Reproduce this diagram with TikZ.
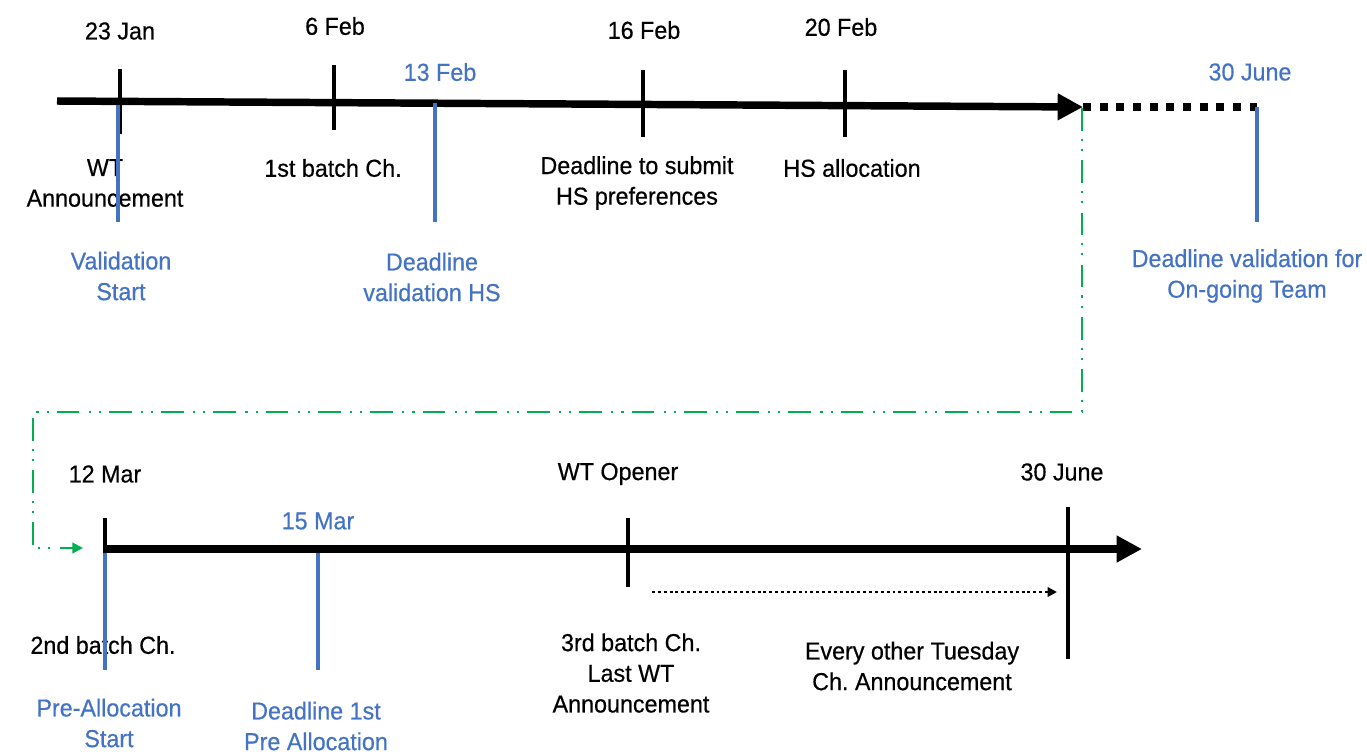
\documentclass[tikz,border=0pt]{standalone}
\usepackage{fontspec}
\setmainfont[FakeStretch=0.95,FakeBold=0.5]{Liberation Sans}
\usetikzlibrary{arrows.meta}
\definecolor{tblue}{HTML}{4472C4}
\definecolor{tgreen}{HTML}{00B050}
\frenchspacing
\tikzset{
  axis/.style={line width=5.6pt, -{Triangle[length=19pt,width=19pt]}},
  tick/.style={line width=3pt},
  bluetick/.style={line width=2.8pt, tblue},
  lbl/.style={align=center, inner sep=0pt, font=\fontsize{18.4}{23}\selectfont\frenchspacing},
  blbl/.style={lbl, text=tblue},
  greenlink/.style={tgreen, line width=1.6pt, dash pattern=on 17pt off 6pt on 1.6pt off 6pt on 1.6pt off 7pt, -{Triangle[length=8pt,width=8pt]}},
}
\begin{document}
\begin{tikzpicture}[x=0.75pt,y=-0.75pt]
\useasboundingbox (0,0) rectangle (1367,751);
% ---------- top timeline ----------
\coordinate (t0) at (57,101);
\coordinate (t1) at (1083,107);
\coordinate (tEnd) at (1257,107);
\draw[axis] (t0) -- (t1);
\draw[line width=5.6pt, dash pattern=on 6pt off 6.5pt] (t1) -- (tEnd);
% ticks
\coordinate (a1) at (120,69);  \coordinate (a2) at (120,134);
\coordinate (b1) at (334,65);  \coordinate (b2) at (334,130);
\coordinate (c1) at (643,70);  \coordinate (c2) at (643,137);
\coordinate (d1) at (845,70);  \coordinate (d2) at (845,137);
\draw[tick] (a1) -- (a2);
\draw[tick] (b1) -- (b2);
\draw[tick] (c1) -- (c2);
\draw[tick] (d1) -- (d2);
% labels
\node[lbl] (l23jan) at (120,31) {23 Jan};
\node[lbl] (l6feb) at (335,26) {6 Feb};
\node[blbl] (l13feb) at (440,72) {13 Feb};
\node[lbl] (l16feb) at (644,30) {16 Feb};
\node[lbl] (l20feb) at (841,27) {20 Feb};
\node[blbl] (l30jun) at (1250,72) {30 June};
\node[lbl] (wtann) at (105,183) {WT\\Announcement};
\node[lbl] (batch1) at (333,168) {1st batch Ch.};
\node[blbl] (valstart) at (121,276) {Validation\\Start};
\node[blbl] (dlhs) at (432,277) {Deadline\\validation HS};
\node[lbl] (dlsub) at (637,183) {Deadline to submit\\HS preferences};
\node[lbl] (hsalloc) at (852,168) {HS allocation};
\node[blbl] (dlong) at (1247,276) {Deadline validation for\\On-going Team};
% blue lines
\coordinate (v1) at (118,105);  \coordinate (v2) at (118,222);
\coordinate (w1) at (435,103);  \coordinate (w2) at (435,222);
\coordinate (x1) at (1257,107); \coordinate (x2) at (1257,222);
\draw[bluetick] (v1) -- (v2);
\draw[bluetick] (w1) -- (w2);
\draw[bluetick] (x1) -- (x2);
% ---------- green connector ----------
\coordinate (g1) at (1082,108);
\coordinate (g2) at (1082,412);
\coordinate (g3) at (33,412);
\coordinate (g4) at (33,548);
\coordinate (g5) at (83,548);
\draw[greenlink] (g1) -- (g2) -- (g3) -- (g4) -- (g5);
% ---------- bottom timeline ----------
\coordinate (s0) at (103,549);
\coordinate (s1) at (1142,549);
\draw[axis] (s0) -- (s1);
\coordinate (m1) at (105,518);  \coordinate (m2) at (105,584);
\coordinate (o1) at (628,518);  \coordinate (o2) at (628,587);
\coordinate (j1) at (1068,507); \coordinate (j2) at (1068,659);
\draw[tick] (m1) -- (m2);
\draw[tick] (o1) -- (o2);
\draw[tick] (j1) -- (j2);
\coordinate (e1) at (652,592);
\coordinate (e2) at (1057,592);
\draw[line width=1.8pt, dash pattern=on 2.2pt off 2.2pt, -{Triangle[length=7pt,width=7pt]}] (e1) -- (e2);
% labels
\node[lbl] (l12mar) at (105,474) {12 Mar};
\node[blbl] (l15mar) at (318,521) {15 Mar};
\node[lbl] (wtopen) at (618,474) {WT Opener};
\node[lbl] (l30jb) at (1062,472) {30 June};
\node[lbl] (batch2) at (103,645) {2nd batch Ch.};
\node[blbl] (prestart) at (109,723) {Pre-Allocation\\Start};
\node[blbl] (dlpre) at (316,726) {Deadline 1st\\Pre Allocation};
\node[lbl] (batch3) at (631,673) {3rd batch Ch.\\Last WT\\Announcement};
\node[lbl] (every) at (912,666) {Every other Tuesday\\Ch. Announcement};
% blue lines
\coordinate (p1) at (105,553);  \coordinate (p2) at (105,670);
\coordinate (q1) at (318,553);  \coordinate (q2) at (318,670);
\draw[bluetick] (p1) -- (p2);
\draw[bluetick] (q1) -- (q2);
\end{tikzpicture}
\end{document}
